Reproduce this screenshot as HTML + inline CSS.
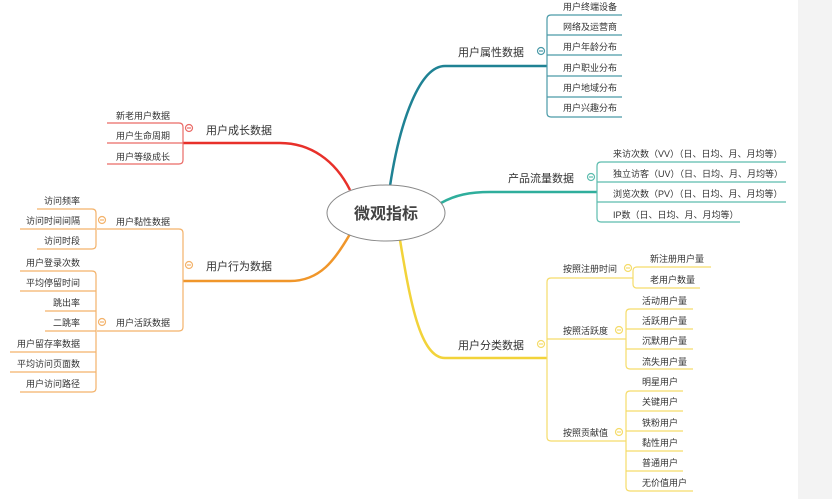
<!DOCTYPE html>
<html><head><meta charset="utf-8"><style>
html,body{margin:0;padding:0;background:#fff;width:832px;height:499px;overflow:hidden}
svg{display:block}
text{font-family:"Liberation Sans","Noto Sans CJK SC",sans-serif;fill:#333}
.s{font-size:9px}.t{font-size:11px}
</style></head><body>
<svg width="832" height="499" viewBox="0 0 832 499" xmlns="http://www.w3.org/2000/svg">
<rect x="798" y="0" width="34" height="499" fill="#f3f3f3"/>
<!-- teal: 用户属性数据 -->
<g fill="none" stroke="#4a9aa8" stroke-width="1.2">
<path d="M390 186 C 400 120, 420 66, 445 66 L547 66" stroke="#1f8294" stroke-width="2.5"/>
<path d="M622 15 H551 Q547 15 547 19 V113 Q547 117 551 117 H622"/>
<path d="M547 35H622M547 55H622M547 76H622M547 97H622"/>
<circle cx="541" cy="51" r="3.5" fill="#fff"/><path d="M539 51H543"/>
</g>
<text class="t" x="458" y="56">用户属性数据</text>
<g class="s"><text x="563" y="10">用户终端设备</text><text x="563" y="30">网络及运营商</text><text x="563" y="50">用户年龄分布</text><text x="563" y="71">用户职业分布</text><text x="563" y="91">用户地域分布</text><text x="563" y="111">用户兴趣分布</text></g>
<!-- product flow -->
<g fill="none" stroke="#5cbcae" stroke-width="1.2">
<path d="M441 203 C 455 195, 470 192, 490 192 L597 192" stroke="#2fae9c" stroke-width="2.5"/>
<path d="M786 162 H601 Q597 162 597 166 V218 Q597 222 601 222 H740"/>
<path d="M597 182H786M597 202H786"/>
<circle cx="591" cy="177" r="3.5" fill="#fff"/><path d="M589 177H593"/>
</g>
<text class="t" x="508" y="182">产品流量数据</text>
<g class="s"><text x="613" y="157">来访次数（VV）（日、日均、月、月均等）</text><text x="613" y="177">独立访客（UV）（日、日均、月、月均等）</text><text x="613" y="197">浏览次数（PV）（日、日均、月、月均等）</text><text x="613" y="218">IP数（日、日均、月、月均等）</text></g>
<!-- red growth -->
<g fill="none" stroke="#ea6a66" stroke-width="1.2">
<path d="M350 190 C 335 160, 310 143, 280 143 L183 143" stroke="#e8302a" stroke-width="2.5"/>
<path d="M107 123 H179 Q183 123 183 127 V160 Q183 164 179 164 H107"/>
<path d="M107 143H183"/>
<circle cx="189" cy="128" r="3.5" fill="#fff"/><path d="M187 128H191"/>
</g>
<text class="t" x="206" y="134">用户成长数据</text>
<g class="s"><text x="116" y="119">新老用户数据</text><text x="116" y="139">用户生命周期</text><text x="116" y="160">用户等级成长</text></g>
<!-- orange behavior -->
<g fill="none" stroke="#f3b26a" stroke-width="1.2">
<path d="M350 234 C 335 260, 320 281, 290 281 L183 281" stroke="#f0962a" stroke-width="2.5"/>
<path d="M97 229 H179 Q183 229 183 233 V327 Q183 331 179 331 H97"/>
<path d="M37 209 H92 Q96 209 96 213 V245 Q96 249 92 249 H37 M20 229H96"/>
<path d="M20 271 H92 Q96 271 96 275 V388 Q96 392 92 392 H20 M20 291H96 M45 311H96 M45 331H96 M10 352H96 M10 372H96"/>
<circle cx="189" cy="265" r="3.5" fill="#fff"/><path d="M187 265H191"/>
<circle cx="102" cy="220" r="3.5" fill="#fff"/><path d="M100 220H104"/>
<circle cx="102" cy="322" r="3.5" fill="#fff"/><path d="M100 322H104"/>
</g>
<text class="t" x="206" y="270">用户行为数据</text>
<text class="s" x="116" y="225">用户黏性数据</text>
<text class="s" x="116" y="326">用户活跃数据</text>
<g class="s" text-anchor="end"><text x="80" y="204">访问频率</text><text x="80" y="224">访问时间间隔</text><text x="80" y="244">访问时段</text>
<text x="80" y="266">用户登录次数</text><text x="80" y="286">平均停留时间</text><text x="80" y="306">跳出率</text><text x="80" y="326">二跳率</text><text x="80" y="347">用户留存率数据</text><text x="80" y="367">平均访问页面数</text><text x="80" y="387">用户访问路径</text></g>
<!-- yellow classification -->
<g fill="none" stroke="#f5dc6a" stroke-width="1.2">
<path d="M400 240 C 410 300, 420 358, 445 358 L547 358" stroke="#f2d33a" stroke-width="2.5"/>
<path d="M633 278 H551 Q547 278 547 282 V437 Q547 441 551 441 H626 M547 339H626"/>
<path d="M711 267 H637 Q633 267 633 271 V284 Q633 288 637 288 H700"/>
<path d="M693 309 H630 Q626 309 626 313 V365 Q626 369 630 369 H693 M626 329H693 M626 349H693"/>
<path d="M683 391 H630 Q626 391 626 395 V487 Q626 491 630 491 H693 M626 411H683 M626 431H683 M626 451H683 M626 471H683"/>
<circle cx="541" cy="344" r="3.5" fill="#fff"/><path d="M539 344H543"/>
<circle cx="628" cy="268" r="3.5" fill="#fff"/><path d="M626 268H630"/>
<circle cx="619" cy="330" r="3.5" fill="#fff"/><path d="M617 330H621"/>
<circle cx="619" cy="432" r="3.5" fill="#fff"/><path d="M617 432H621"/>
</g>
<text class="t" x="458" y="349">用户分类数据</text>
<g class="s"><text x="563" y="272">按照注册时间</text><text x="563" y="334">按照活跃度</text><text x="563" y="436">按照贡献值</text>
<text x="650" y="262">新注册用户量</text><text x="650" y="283">老用户数量</text>
<text x="642" y="304">活动用户量</text><text x="642" y="324">活跃用户量</text><text x="642" y="344">沉默用户量</text><text x="642" y="365">流失用户量</text>
<text x="642" y="385">明星用户</text><text x="642" y="405">关键用户</text><text x="642" y="426">铁粉用户</text><text x="642" y="446">黏性用户</text><text x="642" y="466">普通用户</text><text x="642" y="486">无价值用户</text></g>
<!-- center -->
<ellipse cx="386" cy="213" rx="59" ry="28" fill="#fff" stroke="#888" stroke-width="1"/>
<text x="386" y="219" text-anchor="middle" style="font-size:16px;font-weight:bold;fill:#444">微观指标</text>
</svg>
</body></html>
